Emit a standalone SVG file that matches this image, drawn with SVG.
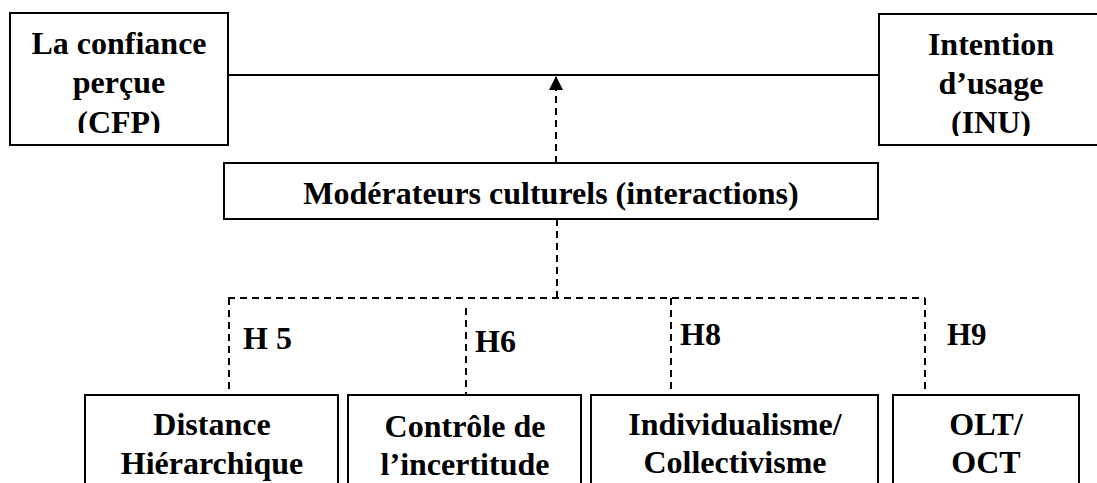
<svg xmlns="http://www.w3.org/2000/svg" width="1097" height="483" viewBox="0 0 1097 483">
<style>
.box{fill:#fff;stroke:#000;stroke-width:2}
.t{font-family:"Liberation Serif","Times New Roman",serif;font-weight:bold;font-size:32px;fill:#000;text-anchor:middle}
.h{font-family:"Liberation Serif","Times New Roman",serif;font-weight:bold;font-size:32px;fill:#000}
.solid{stroke:#000;stroke-width:2;fill:none}
.dash{stroke:#000;stroke-width:2;fill:none;stroke-dasharray:7 5}
</style>
<defs>
<marker id="arr" viewBox="0 0 14 14" refX="13" refY="7" markerWidth="14" markerHeight="14" markerUnits="userSpaceOnUse" orient="auto">
<path d="M0,0 L14,7 L0,14 Z" fill="#000"/>
</marker>
<clipPath id="clipL"><rect x="10" y="13" width="218" height="120"/></clipPath>
<clipPath id="clipR"><rect x="879" y="14" width="224" height="122"/></clipPath>
</defs>
<rect width="1097" height="483" fill="#fff"/>
<g id="connectors">
<line class="solid" x1="228" y1="75" x2="879" y2="75"/>
<line class="dash" x1="556" y1="163" x2="556" y2="77" marker-end="url(#arr)"/>
<line class="dash" x1="557" y1="219" x2="557" y2="298"/>
<line class="dash" x1="228" y1="298" x2="925" y2="298"/>
<line class="dash" x1="229" y1="298" x2="229" y2="392"/>
<line class="dash" x1="466" y1="308" x2="466" y2="395"/>
<line class="dash" x1="671" y1="298" x2="671" y2="390"/>
<line class="dash" x1="925" y1="298" x2="925" y2="390"/>
<text class="h" x="243" y="349">H 5</text>
<text class="h" x="475" y="352">H6</text>
<text class="h" x="680" y="345">H8</text>
<text class="h" x="947" y="345" style="font-size:31px">H9</text>
</g>
<g id="cfp">
<rect class="box" x="10" y="13" width="218" height="132"/>
<g clip-path="url(#clipL)">
<text class="t" x="119" y="54">La confiance</text>
<text class="t" x="119" y="93">perçue</text>
<text class="t" x="119" y="133">(CFP)</text>
</g>
</g>
<g id="inu">
<rect class="box" x="879" y="14" width="224" height="131"/>
<g clip-path="url(#clipR)">
<text class="t" x="991" y="55">Intention</text>
<text class="t" x="991" y="94">d’usage</text>
<text class="t" x="991" y="133">(INU)</text>
</g>
</g>
<g id="moderateurs">
<rect class="box" x="224" y="163" width="654" height="56"/>
<text class="t" x="551" y="204">Modérateurs culturels (interactions)</text>
</g>
<g id="distance">
<rect class="box" x="85" y="395" width="253" height="100"/>
<text class="t" x="212" y="435">Distance</text>
<text class="t" x="212" y="474">Hiérarchique</text>
</g>
<g id="controle">
<rect class="box" x="348" y="395" width="233" height="100"/>
<text class="t" x="465" y="437">Contrôle de</text>
<text class="t" x="465" y="475">l’incertitude</text>
</g>
<g id="individualisme">
<rect class="box" x="591" y="395" width="287" height="100"/>
<text class="t" x="735" y="435">Individualisme/</text>
<text class="t" x="735" y="473">Collectivisme</text>
</g>
<g id="olt">
<rect class="box" x="893" y="395" width="186" height="100"/>
<text class="t" x="986" y="435">OLT/</text>
<text class="t" x="986" y="473">OCT</text>
</g>
</svg>
